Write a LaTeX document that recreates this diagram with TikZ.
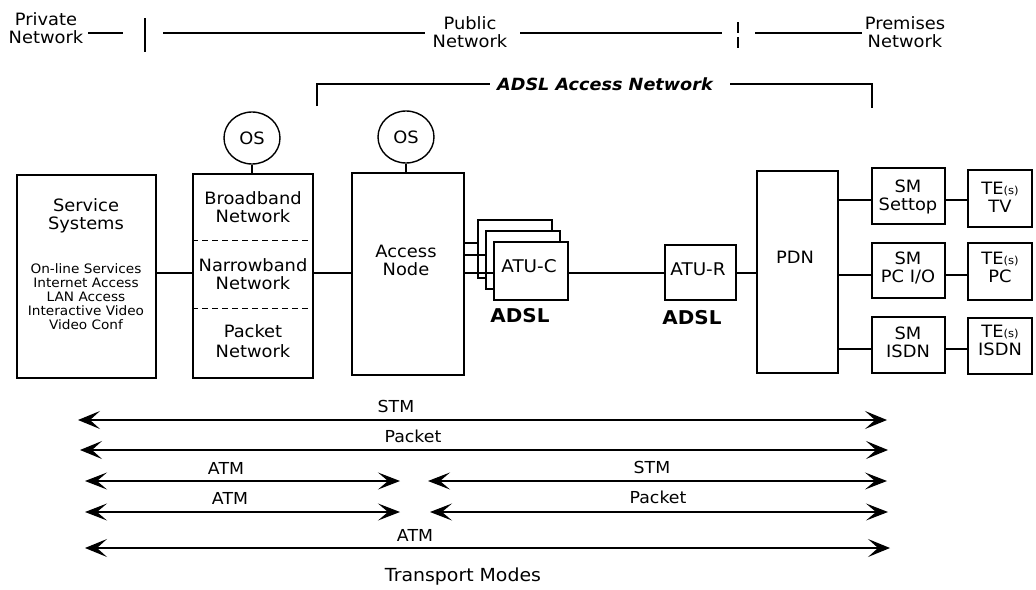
\documentclass[tikz,border=0pt]{standalone}
\usepackage{fontspec}
\setmainfont{DejaVu Sans}[FakeStretch=1.05]
\usetikzlibrary{arrows.meta,shapes.geometric}
\begin{document}
\begin{tikzpicture}[x=1pt,y=-1pt,
  box/.style={draw, line width=1.6pt, fill=white, inner sep=0},
  lbl/.style={font=\fontsize{17}{18}\selectfont, align=center, inner sep=0},
  small/.style={font=\fontsize{13}{14}\selectfont, align=center, inner sep=0},
  alabel/.style={font=\fontsize{16.5}{17}\selectfont, inner sep=0},
  wire/.style={line width=1.4pt},
  arr/.style={line width=1.4pt, {Stealth[length=22pt,width=18pt,inset=10pt]}-{Stealth[length=22pt,width=18pt,inset=10pt]}},
  arrthin/.style={line width=1.1pt, {Stealth[length=22pt,width=17pt,inset=10pt]}-{Stealth[length=22pt,width=17pt,inset=10pt]}},
  dsep/.style={line width=1pt, dash pattern=on 6pt off 4pt}]
\useasboundingbox (0,0) rectangle (1036,589);

% ---------- top header ----------
\node[lbl] (priv) at (46,28) {Private\\Network};
\node[lbl] (pub) at (470,32) {Public\\Network};
\node[lbl] (prem) at (905,32) {Premises\\Network};
\coordinate (t1) at (88,33);   \coordinate (t2) at (123,33);
\coordinate (t3) at (163,33);  \coordinate (t4) at (425,33);
\coordinate (t5) at (520,33);  \coordinate (t6) at (722,33);
\coordinate (t7) at (755,33);  \coordinate (t8) at (862,33);
\coordinate (v1a) at (145,18); \coordinate (v1b) at (145,52);
\coordinate (v2a) at (738,22); \coordinate (v2b) at (738,51);
\draw[wire] (t1) -- (t2);
\draw[wire] (t3) -- (t4);
\draw[wire] (t5) -- (t6);
\draw[wire] (t7) -- (t8);
\draw[line width=2pt] (v1a) -- (v1b);
\draw[line width=2pt, dash pattern=on 11pt off 4pt] (v2a) -- (v2b);

% ---------- ADSL access network bracket ----------
\node[font=\fontsize{16.8}{17}\selectfont\bfseries\itshape, inner sep=0] (adan) at (605,84) {ADSL Access Network};
\coordinate (b1) at (317,106); \coordinate (b2) at (317,84); \coordinate (b3) at (490,84);
\coordinate (b4) at (730,84);  \coordinate (b5) at (872,84); \coordinate (b6) at (872,108);
\draw[wire] (b1) -- (b2) -- (b3);
\draw[wire] (b4) -- (b5) -- (b6);

% ---------- boxes ----------
\node[box, minimum width=139, minimum height=203] (ss) at (86.5,276.5) {};
\node[box, minimum width=120, minimum height=204] (bb) at (253,276) {};
\node[box, minimum width=112, minimum height=202] (an) at (408,274) {};
\node[box, minimum width=74, minimum height=58] (atub) at (515,249) {};
\node[box, minimum width=74, minimum height=58] (atum) at (523,260) {};
\node[box, minimum width=74, minimum height=58] (atuc) at (531,271) {};
\node[box, minimum width=71, minimum height=55] (atur) at (700.5,272.5) {};
\node[box, minimum width=81, minimum height=202] (pdn) at (797.5,272) {};
\node[box, minimum width=73, minimum height=56] (sm1) at (908.5,196) {};
\node[box, minimum width=73, minimum height=55] (sm2) at (908.5,270.5) {};
\node[box, minimum width=73, minimum height=56] (sm3) at (908.5,345) {};
\node[box, minimum width=64, minimum height=57] (te1) at (1000,198.5) {};
\node[box, minimum width=64, minimum height=57] (te2) at (1000,271.5) {};
\node[box, minimum width=64, minimum height=56] (te3) at (1000,346) {};

% OS circles
\node[draw, line width=1.4pt, ellipse, minimum width=56, minimum height=52, inner sep=0, font=\fontsize{17}{18}\selectfont] (os1) at (252,138) {OS};
\node[draw, line width=1.4pt, ellipse, minimum width=56, minimum height=52, inner sep=0, font=\fontsize{17}{18}\selectfont] (os2) at (406,137) {OS};
\draw[wire] (os1.south) -- (os1.south |- bb.north);
\draw[wire] (os2.south) -- (os2.south |- an.north);

% ---------- box texts ----------
\node[lbl] (sstxt) at (86,216) {Service\\Systems};
\node[small] (sslist) at (86,297) {On-line Services\\Internet Access\\LAN Access\\Interactive Video\\Video Conf};
\node[lbl] (bbtxt) at (253,207) {Broadband\\Network};
\node[lbl] (nbtxt) at (253,274) {Narrowband\\Network};
\node[lbl, font=\fontsize{17}{20.5}\selectfont] (pktxt) at (253,341) {Packet\\Network};
\draw[dsep] (bb.west |- 0,240) -- (bb.east |- 0,240);
\draw[dsep] (bb.west |- 0,308) -- (bb.east |- 0,308);
\node[lbl] (antxt) at (406,260) {Access\\Node};
\node[lbl, font=\fontsize{17.5}{18}\selectfont] (atuctxt) at (529,266) {ATU-C};
\node[font=\fontsize{19}{20}\selectfont\bfseries, inner sep=0] (adsl1) at (520,316) {ADSL};
\node[lbl, font=\fontsize{17.5}{18}\selectfont] (aturtxt) at (698,269) {ATU-R};
\node[font=\fontsize{19}{20}\selectfont\bfseries, inner sep=0] (adsl2) at (692,318) {ADSL};
\node[lbl] (pdntxt) at (795,257) {PDN};
\node[lbl] (sm1txt) at (908,197) {SM\\Settop};
\node[lbl] (sm2txt) at (908,268) {SM\\PC I/O};
\node[lbl] (sm3txt) at (908,342) {SM\\ISDN};
\node[lbl] (te1txt) at (1000,197) {TE{\fontsize{11}{11}\selectfont(s)}\\TV};
\node[lbl] (te2txt) at (1000,267) {TE{\fontsize{11}{11}\selectfont(s)}\\PC};
\node[lbl] (te3txt) at (1000,340) {TE{\fontsize{11}{11}\selectfont(s)}\\ISDN};

% ---------- connectors ----------
\coordinate (h273) at (0,273);
\coordinate (h243) at (0,243);
\coordinate (h255) at (0,255);
\coordinate (h200) at (0,200);
\coordinate (h275) at (0,275);
\coordinate (h349) at (0,349);
\draw[wire] (ss.east |- h273) -- (bb.west |- h273);
\draw[wire] (bb.east |- h273) -- (an.west |- h273);
\draw[wire] (an.east |- h243) -- (atub.west |- h243);
\draw[wire] (an.east |- h255) -- (atum.west |- h255);
\draw[wire] (an.east |- h273) -- (atuc.west |- h273);
\draw[wire] (atuc.east |- h273) -- (atur.west |- h273);
\draw[wire] (atur.east |- h273) -- (pdn.west |- h273);
\draw[wire] (pdn.east |- h200) -- (sm1.west |- h200);
\draw[wire] (pdn.east |- h275) -- (sm2.west |- h275);
\draw[wire] (pdn.east |- h349) -- (sm3.west |- h349);
\draw[wire] (sm1.east |- h200) -- (te1.west |- h200);
\draw[wire] (sm2.east |- h275) -- (te2.west |- h275);
\draw[wire] (sm3.east |- h349) -- (te3.west |- h349);

% ---------- transport mode arrows ----------
\coordinate (r1l) at (78,420);  \coordinate (r1r) at (887,420);
\coordinate (r2l) at (80,450);  \coordinate (r2r) at (888,450);
\coordinate (r3l) at (85,481);  \coordinate (r3m) at (400,481);
\coordinate (r3n) at (428,481); \coordinate (r3r) at (887,481);
\coordinate (r4l) at (85,512);  \coordinate (r4m) at (400,512);
\coordinate (r4n) at (430,512); \coordinate (r4r) at (888,512);
\coordinate (r5l) at (85,548);  \coordinate (r5r) at (890,548);
\draw[arr] (r1l) -- (r1r);
\draw[arr] (r2l) -- (r2r);
\draw[arrthin] (r3l) -- (r3m);
\draw[arrthin] (r3n) -- (r3r);
\draw[arrthin] (r4l) -- (r4m);
\draw[arrthin] (r4n) -- (r4r);
\draw[arr] (r5l) -- (r5r);
\node[alabel] (l1) at (396,406) {STM};
\node[alabel] (l2) at (413,436) {Packet};
\node[alabel] (l3) at (226,468) {ATM};
\node[alabel] (l4) at (652,467) {STM};
\node[alabel] (l5) at (230,498) {ATM};
\node[alabel] (l6) at (658,497) {Packet};
\node[alabel] (l7) at (415,535) {ATM};
\node[font=\fontsize{18}{19}\selectfont, inner sep=0] (tm) at (463,577) {Transport Modes};
\end{tikzpicture}
\end{document}
